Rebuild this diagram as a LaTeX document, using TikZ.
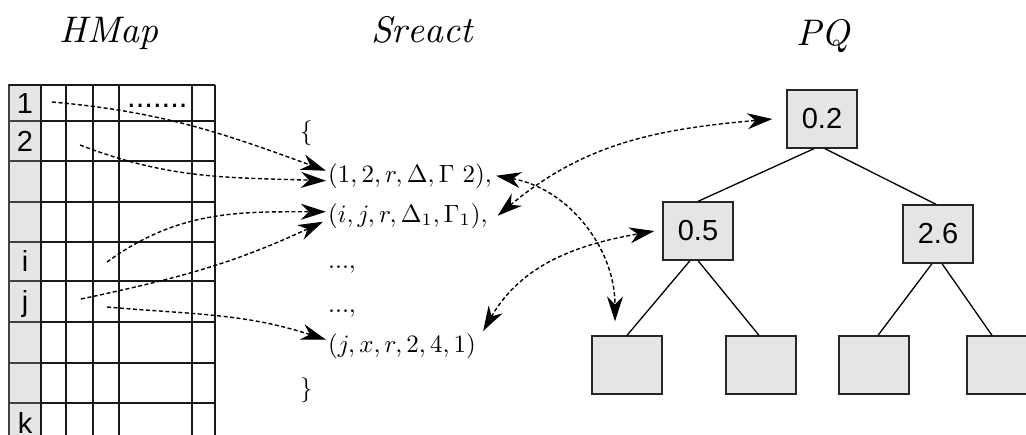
\documentclass[tikz,border=0pt]{standalone}
\usepackage{graphicx}
\usepackage{fontspec}
\setsansfont{Liberation Sans}
\usetikzlibrary{arrows.meta}

\newcommand{\titlemath}[1]{\scalebox{3.7}{$\mathit{#1}$}}
\newcommand{\entrymath}[1]{\scalebox{2.5}{$#1$}}
\newcommand{\cellsize}{\sffamily\fontsize{29}{30}\selectfont}

\tikzset{
  title/.style={anchor=base},
  entry/.style={anchor=base west, inner sep=2pt},
  cellbox/.style={draw=black!75, fill=gray!20, line width=1.7pt},
  celltext/.style={font=\cellsize, anchor=base, inner sep=0pt},
  grid/.style={draw=black!90, line width=1.5pt},
  qbox/.style={draw=black!85, fill=gray!20, line width=1.3pt, minimum width=70pt,
    minimum height=58pt, inner sep=0pt, font=\sffamily\fontsize{29}{32}\selectfont},
  edge/.style={line width=1.3pt},
  link/.style={line width=1.4pt, dash pattern=on 4pt off 2.5pt, -{Stealth[length=25pt,width=16pt,inset=8pt]}},
  dlink/.style={link, {Stealth[length=25pt,width=16pt,inset=8pt]}-{Stealth[length=25pt,width=16pt,inset=8pt]}}
}

\begin{document}
\begin{tikzpicture}[x=1pt,y=-1pt]
    \useasboundingbox (0,0) rectangle (1026,434);
    \clip (0,0) rectangle (1026,434);

    % Titles
    \node[title] (hmap) at (109,42) {\titlemath{HMap}};
    \node[title] (sreact) at (422,42) {\titlemath{Sreact}};
    \node[title] (pq) at (823,45) {\titlemath{PQ}};

    % Hash map table
    \foreach \top/\bot/\lab [count=\i] in {85/121/1,121/161/2,161/202/,202/242/,242/281/i,281/322/j,322/363/,363/403/,403/443/k} {
        \draw[cellbox] (9,\top) rectangle (41,\bot);
        \node[celltext] (c\i) at (25,{(\top+\bot)/2+10}) {\lab};
        \draw[grid] (41,\bot) -- (215,\bot);
    }
    \draw[grid] (9,85) -- (215,85);
    \foreach \x in {41,66,93,119,192,215} \draw[grid] (\x,85) -- (\x,443);
    \node[font=\sffamily\fontsize{31}{32}\selectfont, anchor=base west, inner sep=0pt] (dots) at (127,107) {.......};

    % Set of reactions
    \node[entry] (lb) at (298,139) {\entrymath{\{}};
    \node[entry] (s1) at (326,182) {\entrymath{(1,2,r,\Delta,\Gamma\ 2),}};
    \node[entry] (s2) at (326,222) {\entrymath{(i,j,r,\Delta_1,\Gamma_1),}};
    \node[entry] (s3) at (326,268) {\entrymath{...,}};
    \node[entry] (s4) at (326,312) {\entrymath{...,}};
    \node[entry] (s5) at (326,352) {\entrymath{(j,x,r,2,4,1)}};
    \node[entry] (rb) at (298,396) {\entrymath{\}}};

    % Priority queue
    \node[qbox] (q0) at (822,119) {0.2};
    \node[qbox] (q1) at (698,231) {0.5};
    \node[qbox] (q2) at (938,234) {2.6};
    \node[qbox] (l1) at (627,365) {};
    \node[qbox] (l2) at (761,365) {};
    \node[qbox] (l3) at (874,365) {};
    \node[qbox] (l4) at (1002,365) {};
    \draw[edge] ([xshift=-8pt]q0.south) -- (q1.north);
    \draw[edge] ([xshift=3pt]q0.south) -- ([xshift=-2pt]q2.north);
    \draw[edge] ([xshift=-8pt]q1.south) -- (l1.north);
    \draw[edge] (q1.south) -- ([xshift=-2pt]l2.north);
    \draw[edge] ([xshift=-6pt]q2.south) -- ([xshift=4pt]l3.north);
    \draw[edge] ([xshift=4pt]q2.south) -- ([xshift=-10pt]l4.north);

    % Pointers from the table
    \coordinate (h1) at (52,102);
    \coordinate (h2) at (80,145);
    \coordinate (hi) at (107,262);
    \coordinate (hj1) at (81,299);
    \coordinate (hj2) at (107,307);
    \draw[link] (h1) to[out=-5,in=160] ([yshift=5pt]s1.west);
    \draw[link] (h2) to[out=-21,in=178] ([yshift=-5pt]s1.west);
    \draw[link] (hi) to[out=36,in=180] ([yshift=4pt]s2.west);
    \draw[link] (hj1) to[out=12,in=205] ([xshift=-3pt,yshift=-6pt]s2.west);
    \draw[link] (hj2) to[out=-5,in=162] ([yshift=6pt]s5.west);

    % Links between reactions and queue
    \draw[dlink] ([xshift=8pt]s2.east) to[out=40,in=185] ([xshift=-14pt]q0.west);
    \draw[dlink] ([xshift=2pt]s1.east) to[out=-10,in=90] ([xshift=-12pt,yshift=14pt]l1.north);
    \draw[dlink] ([xshift=5pt]s5.north east) to[out=60,in=190] ([xshift=-8pt]q1.west);
\end{tikzpicture}
\end{document}
